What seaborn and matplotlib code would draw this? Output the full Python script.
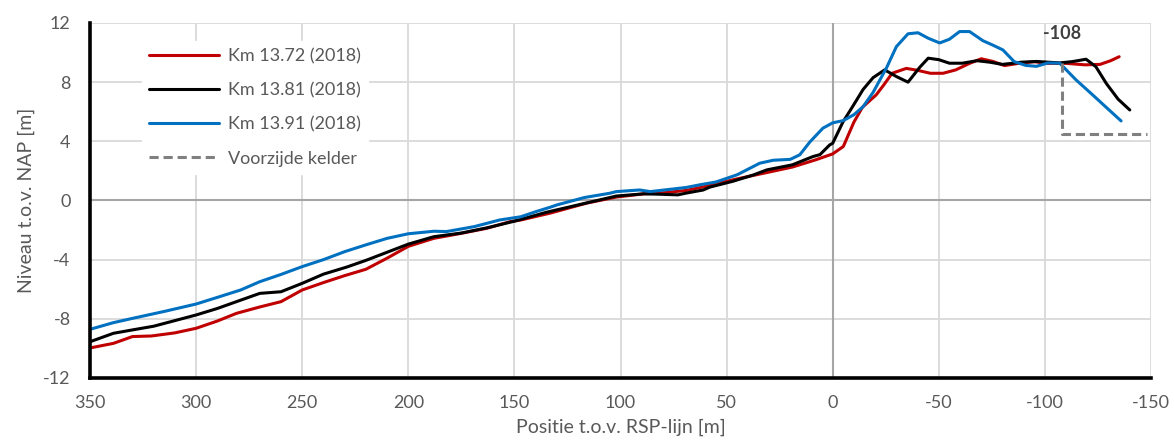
import matplotlib
matplotlib.use("Agg")
import matplotlib.pyplot as plt
import seaborn as sns
import pandas as pd

# ===========================================
# DADOS
# ===========================================
x_1372 = [350, 339, 330, 321, 310, 300, 290, 281, 270, 260, 250, 240, 230, 220, 210, 200,
          188, 175, 163, 152, 147, 133, 116, 102, 89, 81, 69, 58, 47, 31, 19, 8, 0, -5,
          -10, -14, -20.5, -24, -28, -34.7, -40, -46, -52, -58, -64.5, -70, -75.5, -81,
          -88, -95, -101, -110, -119, -126, -131, -135]
y_1372 = [-9.97, -9.66, -9.2, -9.16, -8.95, -8.64, -8.15, -7.63, -7.2, -6.84, -6.05, -5.55,
          -5.08, -4.65, -3.9, -3.1, -2.56, -2.22, -1.88, -1.43, -1.32, -0.85, -0.18, 0.23,
          0.45, 0.5, 0.68, 1.01, 1.4, 1.89, 2.26, 2.75, 3.15, 3.65, 5.3, 6.3, 7.14, 7.8,
          8.6, 8.93, 8.8, 8.6, 8.6, 8.83, 9.27, 9.58, 9.4, 9.12, 9.28, 9.38, 9.27, 9.27,
          9.17, 9.2, 9.45, 9.72]

x_1381 = [350, 339, 330, 320, 300, 290, 281, 270, 260, 250, 240, 229, 220, 210, 200, 188,
          175, 163, 150, 135, 120, 111, 102, 89, 81, 73, 69, 61, 58, 47, 37.5, 31, 19, 9.3,
          6, 1.4, 0, -4.8, -9.6, -14.3, -19, -24.5, -30, -35.5, -41, -45, -50, -55, -61,
          -68, -74, -80, -89, -96, -107, -113, -119.4, -124, -129, -134.5, -140]
y_1381 = [-9.55, -8.98, -8.75, -8.5, -7.74, -7.3, -6.84, -6.28, -6.17, -5.6, -4.98, -4.5,
          -4.05, -3.5, -2.95, -2.45, -2.2, -1.85, -1.4, -0.8, -0.3, 0.0, 0.3, 0.45, 0.42,
          0.38, 0.5, 0.71, 0.9, 1.3, 1.72, 2.07, 2.41, 2.97, 3.1, 3.76, 3.87, 5.3, 6.4,
          7.5, 8.3, 8.83, 8.38, 8.0, 9.0, 9.62, 9.52, 9.28, 9.28, 9.45, 9.35, 9.2, 9.35,
          9.4, 9.3, 9.39, 9.55, 9.05, 7.9, 6.85, 6.12]

x_1391 = [350, 339, 330, 315, 300, 290, 279, 270, 260, 250, 240, 230, 220, 210, 200, 188,
          182, 169, 157, 147, 140, 133, 130, 117, 105, 102, 91, 86, 69, 62.6, 55, 45, 34.4,
          28, 20, 15.5, 10.8, 4.6, 0, -5, -10, -14.3, -19, -25.3, -30, -35.5, -40.2, -45,
          -50.4, -55, -59.8, -64.5, -70.8, -75.5, -80.2, -85.5, -91, -96, -101.5, -107,
          -114.7, -122.5, -128.8, -135.9]
y_1391 = [-8.71, -8.26, -7.97, -7.5, -7.0, -6.55, -6.05, -5.49, -5.0, -4.47, -4.0, -3.46,
          -3.0, -2.56, -2.25, -2.08, -2.1, -1.77, -1.32, -1.1, -0.76, -0.45, -0.3, 0.2,
          0.49, 0.6, 0.71, 0.6, 0.88, 1.06, 1.25, 1.74, 2.52, 2.72, 2.78, 3.09, 3.95, 4.89,
          5.25, 5.4, 5.8, 6.34, 7.3, 8.95, 10.4, 11.27, 11.34, 10.97, 10.65, 10.9, 11.42,
          11.42, 10.8, 10.5, 10.18, 9.39, 9.13, 9.07, 9.3, 9.28, 8.15, 7.14, 6.31, 5.38]

# voorzijde kelder (x = -108)
kelder_x = [-108, -108, -148]
kelder_y = [9.3, 4.5, 4.5]

series = [
    ("Km 13.72 (2018)", x_1372, y_1372, "#C00000"),
    ("Km 13.81 (2018)", x_1381, y_1381, "#000000"),
    ("Km 13.91 (2018)", x_1391, y_1391, "#0070C0"),
]

# ===========================================
# ESTILO
# ===========================================
sns.set_theme(style="white")
plt.rcParams["font.family"] = ["Lato", "DejaVu Sans"]
plt.rcParams["axes.unicode_minus"] = False
TXT = "#595959"

fig = plt.figure(figsize=(11.74, 4.48), dpi=100)
ax = fig.add_axes([0.0767, 0.1563, 0.9037, 0.7924])

for label, xs, ys, cor in series:
    df = pd.DataFrame({"x": xs, "y": ys})
    sns.lineplot(data=df, x="x", y="y", sort=False, estimator=None, color=cor,
                 linewidth=2.2, label=label, ax=ax)

df_k = pd.DataFrame({"x": kelder_x, "y": kelder_y})
sns.lineplot(data=df_k, x="x", y="y", sort=False, estimator=None, color="#808080",
             linewidth=2.2, linestyle=(0, (3, 1.6)), label="Voorzijde kelder", ax=ax)

ax.text(-108, 11.3, "-108", ha="center", va="center", fontsize=13,
        fontweight="bold", color="#404040")

ax.set_xlim(350, -150)
ax.set_ylim(-12, 12)
ax.set_xticks(range(350, -151, -50))
ax.set_yticks(range(-12, 13, 4))
ax.grid(True, color="#d9d9d9", linewidth=1.3)
ax.axvline(0, color="#a6a6a6", linewidth=1.5, zorder=1)
ax.axhline(0, color="#a6a6a6", linewidth=1.5, zorder=1)
ax.set_axisbelow(True)

for s in ["top", "right"]:
    ax.spines[s].set_visible(False)
for s in ["left", "bottom"]:
    ax.spines[s].set_color("black")
    ax.spines[s].set_linewidth(2.6)

ax.tick_params(axis="both", length=0, labelsize=13, labelcolor=TXT)
ax.tick_params(axis="x", pad=12)
ax.tick_params(axis="y", pad=14)
ax.set_xlabel("Positie t.o.v. RSP-lijn [m]", fontsize=14, color=TXT, labelpad=6)
ax.set_ylabel("Niveau t.o.v. NAP [m]", fontsize=14, color=TXT, labelpad=6)

leg = ax.legend(loc="upper left", bbox_to_anchor=(0.04, 0.975), fontsize=13,
                frameon=True, framealpha=1, edgecolor="white", fancybox=False,
                handlelength=3.9, handletextpad=0.5, labelspacing=1.0,
                borderpad=0.4)
for t in leg.get_texts():
    t.set_color(TXT)

fig.savefig("out.png", dpi=100)
